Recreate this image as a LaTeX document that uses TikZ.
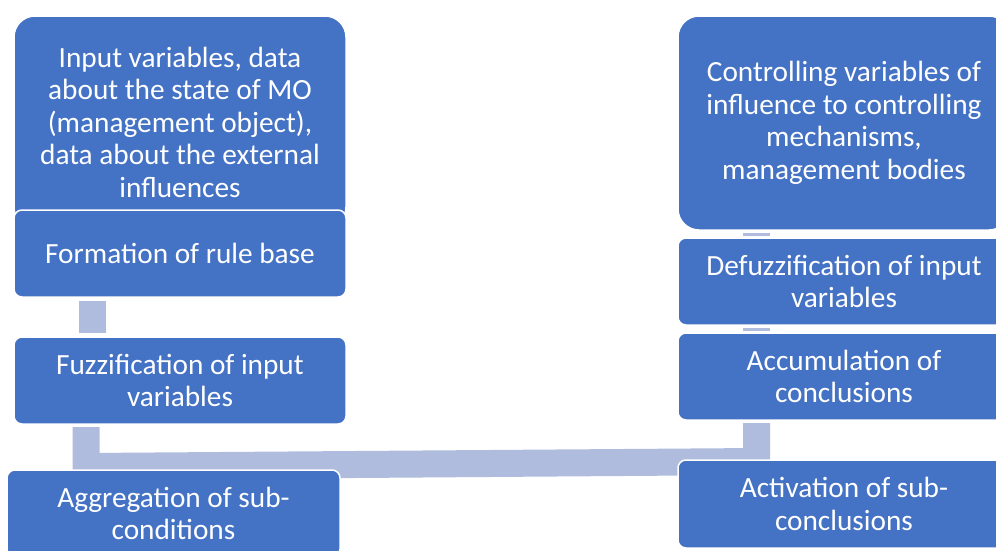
\documentclass[tikz,border=0pt]{standalone}
\usepackage{fontspec}
\setmainfont{Carlito}
\usetikzlibrary{calc}
\definecolor{boxblue}{RGB}{68,114,196}
\definecolor{connblue}{RGB}{175,188,221}
\tikzset{
  box/.style={draw=white, line width=1.5pt, fill=boxblue, rounded corners=8pt,
    text=white, align=center, inner sep=0pt, outer sep=0pt,
    font=\fontsize{29.3}{32.5}\selectfont},
  bigbox/.style={box, rounded corners=21pt},
  conn/.style={draw=connblue, line width=27pt, line join=miter}
}
\begin{document}
\begin{tikzpicture}[x=1pt, y=-1pt]
\clip (0,0) rectangle (996,550);
\path
  node[bigbox, minimum width=332pt, minimum height=212pt] (A) at (180,122)
    {Input variables, data\\about the state of MO\\(management object),\\data about the external\\influences}
  node[box, minimum width=332pt, minimum height=87pt] (B) at (180,253.5)
    {Formation of rule base}
  node[box, minimum width=332pt, minimum height=87pt] (C) at (180,380.5)
    {Fuzzification of input\\variables}
  node[bigbox, minimum width=332pt, minimum height=214pt] (E) at (844,123)
    {Controlling variables of\\influence to controlling\\mechanisms,\\management bodies}
  node[box, minimum width=332pt, minimum height=87pt] (F) at (844,281.5)
    {Defuzzification of input\\variables}
  node[box, minimum width=332pt, minimum height=87pt] (G) at (844,376.5)
    {Accumulation of\\conclusions};
% connectors
\draw[conn] ($(B.south west)+(78.5,4)$) -- ($(C.north west)+(78.5,-4)$);
\draw[conn] ($(E.south west)+(78.5,3)$) -- ($(F.north west)+(78.5,-2.5)$);
\draw[conn] ($(F.south west)+(78.5,3)$) -- ($(G.north west)+(78.5,-2.5)$);
\draw[conn] ($(C.south west)+(72,3)$) -- ($(C.south west)+(72,42.5)$)
  -- ($(G.south west)+(78.5,41.5)$) -- ($(G.south west)+(78.5,3)$);
% lower boxes on top of the long connector
\node[box, minimum width=333pt, minimum height=87pt] (D) at (173.5,513.5)
    {Aggregation of sub-\\conditions};
\node[box, minimum width=332pt, minimum height=88pt] (H) at (844,504)
    {Activation of sub-\\conclusions};
\end{tikzpicture}
\end{document}
